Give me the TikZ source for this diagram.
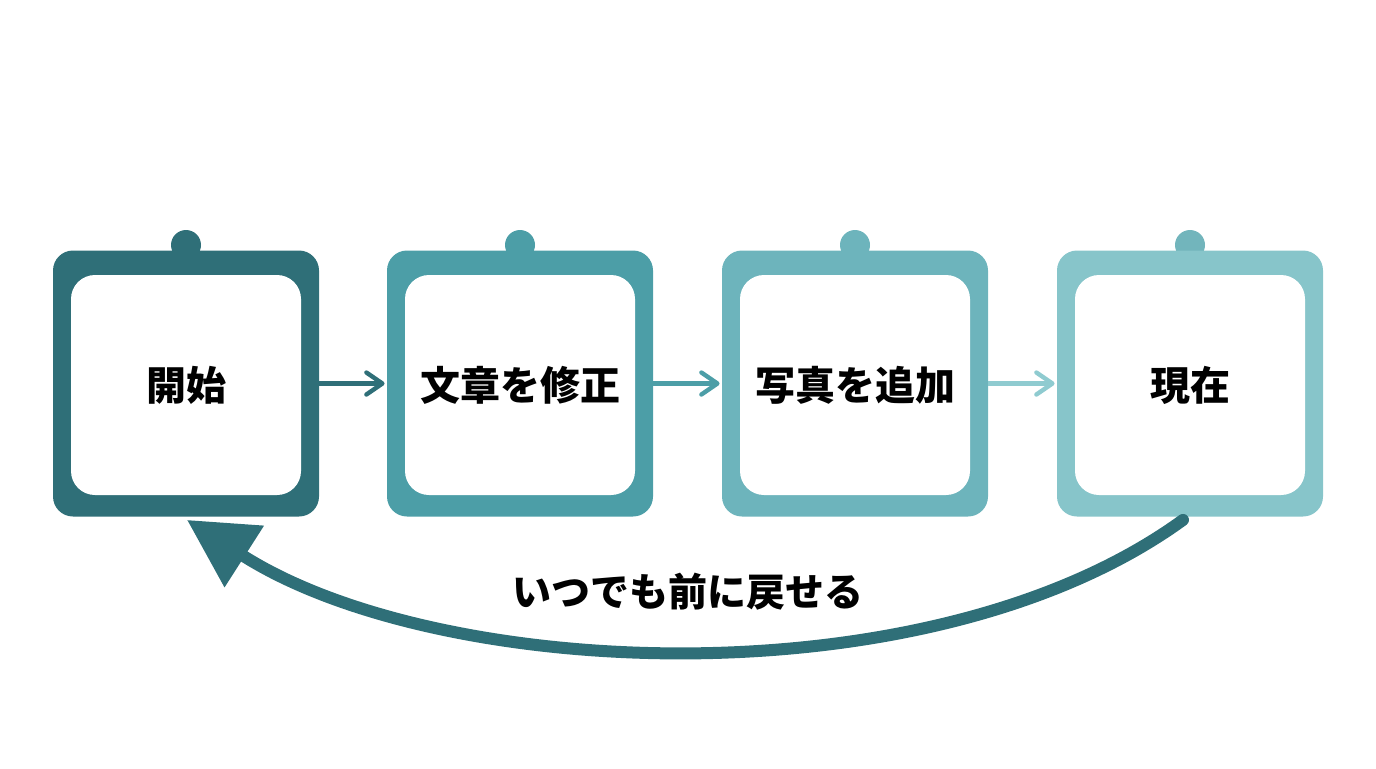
\documentclass[tikz,border=0pt]{standalone}
\usepackage{fontspec}
\setmainfont{Noto Sans CJK JP}
\usetikzlibrary{arrows.meta}
\definecolor{teal1}{HTML}{2f6f78}
\definecolor{teal2}{HTML}{4c9ea7}
\definecolor{teal3}{HTML}{6db4bc}
\definecolor{teal4}{HTML}{87c5ca}
\definecolor{knob4}{HTML}{72b5bc}
\definecolor{link3}{HTML}{8fcbd0}

\begin{document}
\begin{tikzpicture}[x=0.5pt, y=-0.5pt,
  frame/.style={rounded corners=10pt, minimum width=133pt, minimum height=133pt, inner sep=0pt},
  card/.style={fill=white, rounded corners=12pt, minimum width=115pt, minimum height=110pt,
    inner sep=0pt, font=\bfseries\fontsize{20}{24}\selectfont},
  knob/.style={circle, minimum size=15pt, inner sep=0pt},
  link/.style={line width=2.2pt, -{Straight Barb[length=8pt, width=11pt, round]}}]
\useasboundingbox (0,0) rectangle (1376,768);

\node[knob, fill=teal1] (k1) at (186,245) {};
\node[frame, fill=teal1] (b1) at (186,383.5) {};
\node[card] (c1) at (186,385) {開始};

\node[knob, fill=teal2] (k2) at (520,245) {};
\node[frame, fill=teal2] (b2) at (520,383.5) {};
\node[card] (c2) at (520,385) {文章を修正};

\node[knob, fill=teal3] (k3) at (855,245) {};
\node[frame, fill=teal3] (b3) at (855,383.5) {};
\node[card] (c3) at (855,385) {写真を追加};

\node[knob, fill=knob4] (k4) at (1190,245) {};
\node[frame, fill=teal4] (b4) at (1190,383.5) {};
\node[card] (c4) at (1190,385) {現在};

\draw[link, teal1] (b1.east) -- ([xshift=-1pt]b2.west);
\draw[link, teal2] (b2.east) -- ([xshift=-1pt]b3.west);
\draw[link, link3] (b3.east) -- ([xshift=-1pt]b4.west);

\draw[teal1, line width=6pt, line cap=round, -{Triangle[length=34pt, width=35pt]}]
  ([shift={(-7,3)}]b4.south) .. controls (931,703) and (439,681) .. ([shift={(1,3)}]b1.south);

\node[font=\bfseries\fontsize{19.5}{24}\selectfont] (back) at (688,592) {いつでも前に戻せる};
\end{tikzpicture}
\end{document}
